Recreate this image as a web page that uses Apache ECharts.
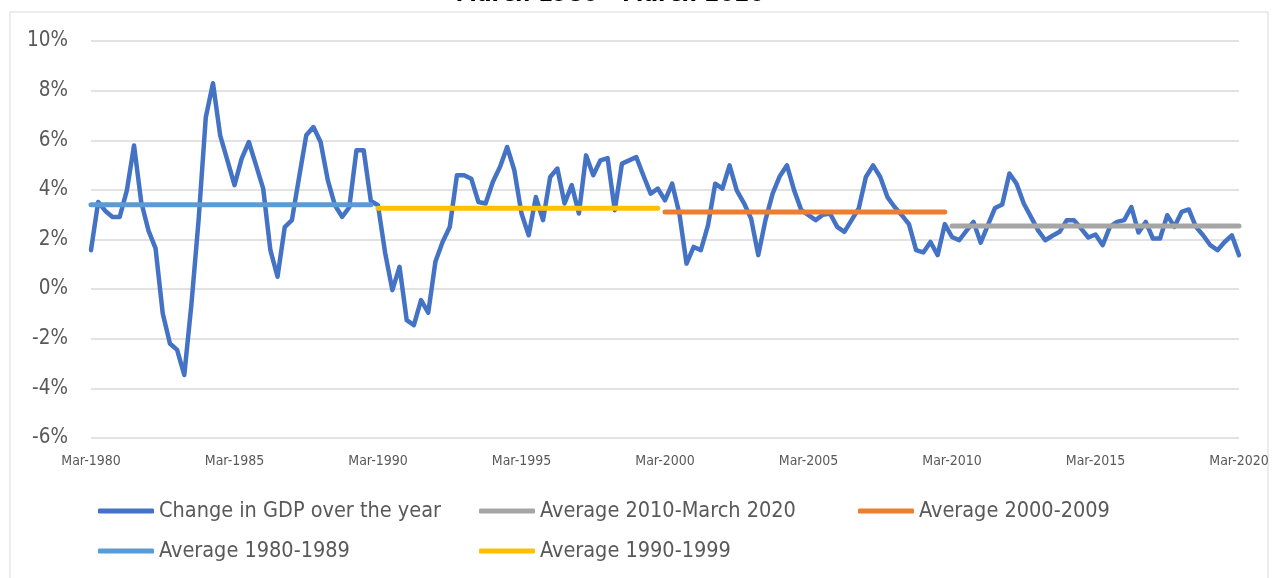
<!DOCTYPE html>
<html>
<head>
<meta charset="utf-8">
<script src="https://cdn.jsdelivr.net/npm/echarts@6/dist/echarts.min.js"></script>
<style>
  html, body { margin: 0; padding: 0; background: #ffffff; }
  #chart { width: 1276px; height: 578px; }
</style>
</head>
<body>
<div id="chart"></div>
<script>
// Annual change in GDP, quarterly observations (percent)
var gdp1980s = [1.57, 3.51, 3.15, 2.91, 2.91, 3.98, 5.79, 3.51, 2.37, 1.64,
                -0.98, -2.19, -2.45, -3.46, -0.6, 2.8, 6.93, 8.3, 6.2, 5.2,
                4.19, 5.26, 5.93, 5.0, 4.05, 1.57, 0.5, 2.5, 2.78, 4.5,
                6.2, 6.53, 5.93, 4.39, 3.38, 2.91, 3.3, 5.6, 5.6, 3.55];
var gdp1990s = [3.38, 1.45, -0.04, 0.9, -1.25, -1.45, -0.44, -0.95, 1.1, 1.9,
                2.5, 4.59, 4.59, 4.45, 3.51, 3.45, 4.32, 4.92, 5.73, 4.79,
                3.05, 2.17, 3.71, 2.78, 4.52, 4.86, 3.45, 4.19, 3.05, 5.39,
                4.59, 5.19, 5.28, 3.18, 5.06, 5.19, 5.32, 4.57, 3.85, 4.05];
var gdp2000s = [3.58, 4.25, 3.05, 1.03, 1.7, 1.57, 2.58, 4.25, 4.05, 4.99,
                3.98, 3.47, 2.84, 1.37, 2.78, 3.85, 4.55, 4.99, 3.98, 3.18,
                2.98, 2.78, 3.0, 3.05, 2.51, 2.31, 2.78, 3.25, 4.52, 4.99,
                4.52, 3.71, 3.31, 2.98, 2.62, 1.57, 1.48, 1.9, 1.37, 2.62];
var gdp2010s = [2.1, 1.97, 2.35, 2.71, 1.87, 2.58, 3.27, 3.41, 4.66, 4.25,
                3.45, 2.91, 2.37, 1.97, 2.15, 2.31, 2.78, 2.78, 2.44, 2.08,
                2.2, 1.77, 2.51, 2.71, 2.78, 3.31, 2.28, 2.71, 2.04, 2.04,
                2.98, 2.51, 3.11, 3.21, 2.51, 2.17, 1.77, 1.57, 1.9, 2.17,
                1.37];

// Period averages (percent)
var avg1980s = 3.40;
var avg1990s = 3.26;
var avg2000s = 3.11;
var avg2010s = 2.54;

// Axis
var months = ['Mar', 'Jun', 'Sep', 'Dec'];
var firstYear = 1980;
var lastYear = 2020;
var yTicks = { min: -6, max: 10, interval: 2 };

var seriesNames = ['Change in GDP over the year', 'Average 2010-March 2020',
                   'Average 2000-2009', 'Average 1980-1989', 'Average 1990-1999'];
var colors = ['#4472C4', '#A5A5A5', '#ED7D31', '#5B9BD5', '#FFC000'];

var categories = [];
for (var y = firstYear; y <= lastYear; y++) {
  for (var q = 0; q < 4; q++) {
    if (y === lastYear && q > 0) break;
    categories.push(months[q] + '-' + y);
  }
}
var gdp = gdp1980s.concat(gdp1990s, gdp2000s, gdp2010s);

function avgLine(value, startLabel, endLabel) {
  return [[startLabel, value], [endLabel, value]];
}

var FONT = "'DejaVu Sans Condensed', 'Liberation Sans', sans-serif";
var textGrey = '#595959';

function mkLegend(name, left, top) {
  return {
    data: [name],
    left: left,
    top: top,
    icon: 'roundRect',
    itemWidth: 56,
    itemHeight: 5,
    itemGap: 0,
    padding: 0,
    textStyle: { color: textGrey, fontSize: 21.5, fontFamily: FONT }
  };
}

var chart = echarts.init(document.getElementById('chart'), null, { renderer: 'canvas' });
var lineBase = { type: 'line', symbol: 'none', showSymbol: false, animation: false };

chart.setOption({
  animation: false,
  backgroundColor: '#ffffff',
  title: {
    text: 'March 1980 - March 2020',
    left: 610,
    textAlign: 'center',
    top: -17.5,
    padding: 0,
    textStyle: { fontSize: 24, fontWeight: 'bold', color: '#000000', fontFamily: FONT }
  },
  graphic: [{
    type: 'rect',
    shape: { x: 10, y: 12, width: 1258, height: 620 },
    style: { fill: 'none', stroke: '#D9D9D9', lineWidth: 1 },
    silent: true,
    z: -1
  }],
  grid: { left: 91, right: 37, top: 41, bottom: 140, containLabel: false },
  legend: [
    mkLegend(seriesNames[0], 98, 500),
    mkLegend(seriesNames[1], 479, 500),
    mkLegend(seriesNames[2], 858, 500),
    mkLegend(seriesNames[3], 98, 540),
    mkLegend(seriesNames[4], 479, 540)
  ],
  xAxis: {
    type: 'category',
    data: categories,
    boundaryGap: false,
    axisLine: { show: false },
    axisTick: { show: false },
    splitLine: { show: false },
    axisLabel: {
      interval: 19,
      color: textGrey,
      fontSize: 14,
      fontFamily: FONT,
      margin: 16,
      showMaxLabel: true
    }
  },
  yAxis: {
    type: 'value',
    min: yTicks.min,
    max: yTicks.max,
    interval: yTicks.interval,
    axisLine: { show: false },
    axisTick: { show: false },
    axisLabel: {
      formatter: '{value}%',
      color: textGrey,
      fontSize: 20.5,
      fontFamily: FONT,
      margin: 23
    },
    splitLine: { lineStyle: { color: '#D9D9D9', width: 1.5 } }
  },
  series: [
    Object.assign({}, lineBase, {
      name: seriesNames[0], data: gdp, color: colors[0],
      lineStyle: { width: 4.5, color: colors[0], cap: 'round', join: 'round' }
    }),
    Object.assign({}, lineBase, {
      name: seriesNames[1], data: avgLine(avg2010s, categories[120], categories[160]), color: colors[1],
      lineStyle: { width: 5, color: colors[1], cap: 'round', join: 'round' }
    }),
    Object.assign({}, lineBase, {
      name: seriesNames[2], data: avgLine(avg2000s, categories[80], categories[119]), color: colors[2],
      lineStyle: { width: 5, color: colors[2], cap: 'round', join: 'round' }
    }),
    Object.assign({}, lineBase, {
      name: seriesNames[3], data: avgLine(avg1980s, categories[0], categories[39]), color: colors[3],
      lineStyle: { width: 5, color: colors[3], cap: 'round', join: 'round' }
    }),
    Object.assign({}, lineBase, {
      name: seriesNames[4], data: avgLine(avg1990s, categories[40], categories[79]), color: colors[4],
      lineStyle: { width: 5, color: colors[4], cap: 'round', join: 'round' }
    })
  ]
});
</script>
</body>
</html>
